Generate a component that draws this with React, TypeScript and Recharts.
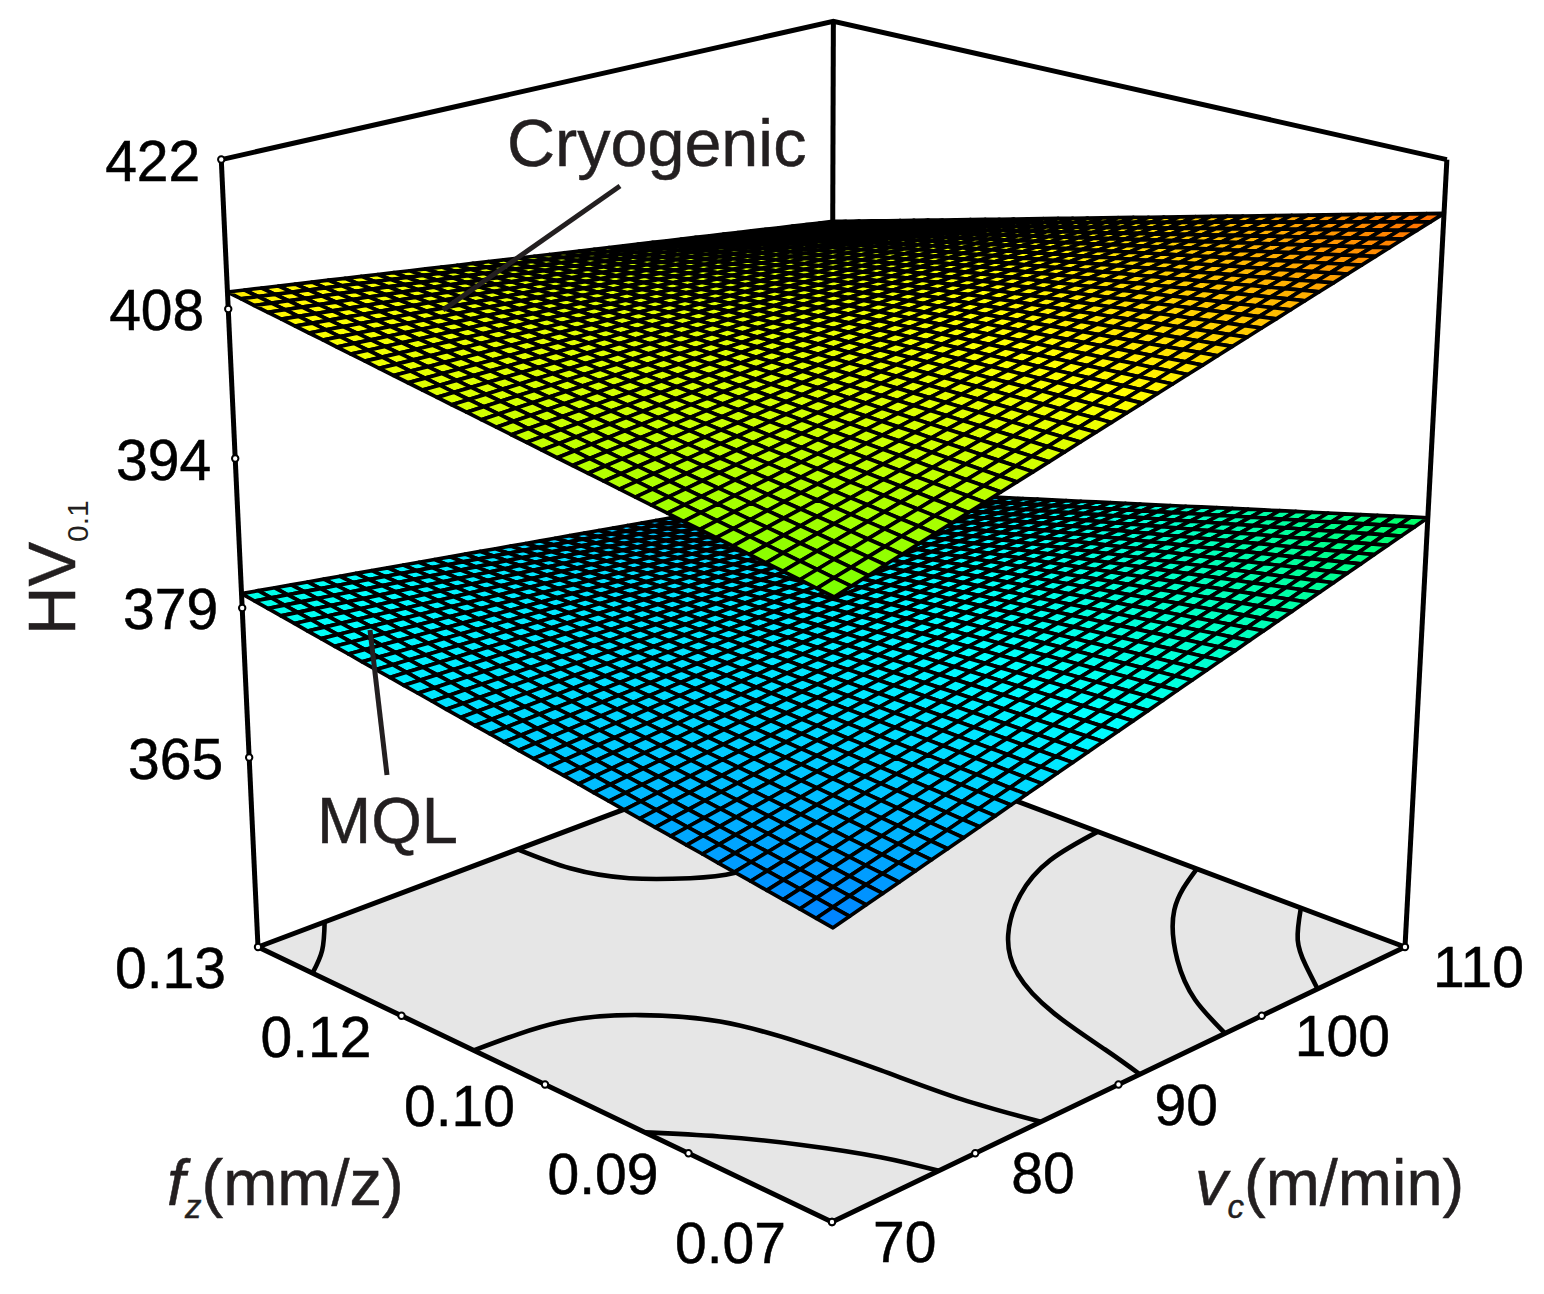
import { Scatter, ScatterChart, XAxis, YAxis } from "recharts";

const WIDTH = 1544;
const HEIGHT = 1294;
const INK = "#231f20";
const FONT = "'Liberation Sans', Arial, sans-serif";

// axis ticks
const vcTicks = [70, 80, 90, 100, 110];
const vcLabels = ["70", "80", "90", "100", "110"];
const fzTicks = [0.07, 0.085, 0.1, 0.115, 0.13];
const fzLabels = ["0.07", "0.09", "0.10", "0.12", "0.13"];
const hvTicks = [422, 407.8, 393.6, 379.4, 365.2];
const hvLabels = ["422", "408", "394", "379", "365"];

const vcRange = [70, 110];
const fzRange = [0.07, 0.13];
const hvRange = [347.2, 422];

// HV read at the four corners of each surface, [fz low, fz high] x [vc low, vc high]
const cryogenicHv = [
  [401.3, 417.2],
  [410.1, 401.8],
];
const mqlHv = [
  [373.4, 389.2],
  [382.0, 373.7],
];
const MESH_CELLS = 40;

// contours on the floor, [vc, fz]
const contourA = [[70, 0.0879], [72.1, 0.0839], [74.1, 0.0792], [75.8, 0.0741], [76.7, 0.07]];
const contourB = [[70, 0.1056], [74.9, 0.1047], [78.1, 0.1015], [80.3, 0.0967], [81.4, 0.0903], [82, 0.0832], [82.5, 0.0761], [83.4, 0.07]];
const contourC = [[110, 0.1004], [105.5, 0.0993], [101.2, 0.0965], [97.2, 0.0922], [94.2, 0.0871], [92.2, 0.0808], [91, 0.0743], [90.2, 0.07]];
const contourD = [[110, 0.0902], [105.3, 0.0864], [100.9, 0.0804], [98.1, 0.0751], [96.3, 0.07]];
const contourE = [[110, 0.0799], [106.9, 0.0764], [104.9, 0.0732], [103.2, 0.07]];
const contourF = [[74.2, 0.13], [72, 0.1262], [70, 0.1236]];
const contourG = [[87, 0.13], [87.3, 0.1244], [88.6, 0.1198], [90.8, 0.1165], [92.9, 0.1148], [96.5, 0.1142]];
const contours = [contourA, contourB, contourC, contourD, contourE, contourF, contourG];

// colour ramp over HV
const rampHv = [366.3, 423];
const rampStops = [
  [0, 0, 255],
  [0, 255, 255],
  [0, 255, 0],
  [255, 255, 0],
  [255, 0, 0],
];

// perspective camera, screen position of the cube corners and depth factors
const FRONT = [832, 1222];
const RIGHT = [1405, 947];
const LEFT = [258, 947];
const TOP_FRONT = [835, 339];
const DEPTH_U = 0.138;
const DEPTH_V = 0.138;
const DEPTH_W = -0.073;

const project = (vc: number, fz: number, hv: number) => {
  const u = (vc - vcRange[0]) / (vcRange[1] - vcRange[0]);
  const v = (fz - fzRange[0]) / (fzRange[1] - fzRange[0]);
  const w = (hv - hvRange[0]) / (hvRange[1] - hvRange[0]);
  const d = 1 + DEPTH_U * u + DEPTH_V * v + DEPTH_W * w;
  const axis = (i: number) =>
    FRONT[i] +
    (RIGHT[i] * (1 + DEPTH_U) - FRONT[i]) * u +
    (LEFT[i] * (1 + DEPTH_V) - FRONT[i]) * v +
    (TOP_FRONT[i] * (1 + DEPTH_W) - FRONT[i]) * w;
  return { x: axis(0) / d, y: axis(1) / d };
};

const lerp = (a: number, b: number, t: number) => a + (b - a) * t;

const hvColor = (hv: number) => {
  const t = Math.min(1, Math.max(0, (hv - rampHv[0]) / (rampHv[1] - rampHv[0])));
  const pos = t * (rampStops.length - 1);
  const i = Math.min(rampStops.length - 2, Math.floor(pos));
  const c = rampStops[i].map((s, k) => Math.round(lerp(s, rampStops[i + 1][k], pos - i)));
  return `rgb(${c[0]},${c[1]},${c[2]})`;
};

const surfaceHv = (table: number[][], i: number, j: number) => {
  const s = i / MESH_CELLS;
  const t = j / MESH_CELLS;
  return lerp(lerp(table[0][0], table[0][1], s), lerp(table[1][0], table[1][1], s), t);
};

// mesh nodes are laid out row by row, the line callback joins them into cells
const meshNodes = (table: number[][]) => {
  const nodes = [];
  for (let j = 0; j <= MESH_CELLS; j++) {
    for (let i = 0; i <= MESH_CELLS; i++) {
      nodes.push(
        project(
          lerp(vcRange[0], vcRange[1], i / MESH_CELLS),
          lerp(fzRange[0], fzRange[1], j / MESH_CELLS),
          surfaceHv(table, i, j)
        )
      );
    }
  }
  return nodes;
};

const meshLine = (table: number[][]) => (props: any) => {
  const pts = props.points;
  const row = MESH_CELLS + 1;
  const cells = [];
  // back to front
  for (let j = MESH_CELLS - 1; j >= 0; j--) {
    for (let i = MESH_CELLS - 1; i >= 0; i--) {
      const a = pts[j * row + i];
      const b = pts[j * row + i + 1];
      const c = pts[(j + 1) * row + i + 1];
      const d = pts[(j + 1) * row + i];
      const hv = (surfaceHv(table, i, j) + surfaceHv(table, i + 1, j) + surfaceHv(table, i + 1, j + 1) + surfaceHv(table, i, j + 1)) / 4;
      cells.push(
        <polygon
          key={`${i}-${j}`}
          points={`${a.x},${a.y} ${b.x},${b.y} ${c.x},${c.y} ${d.x},${d.y}`}
          fill={hvColor(hv)}
          stroke="#000"
          strokeWidth={3.7}
          strokeLinejoin="round"
        />
      );
    }
  }
  return <g>{cells}</g>;
};

const floorLine = (props: any) => (
  <polygon
    points={props.points.map((p: any) => `${p.x},${p.y}`).join(" ")}
    fill="#e6e6e6"
    stroke="#000"
    strokeWidth={5}
    strokeLinejoin="round"
  />
);

const [vc0, vc1] = vcRange;
const [fz0, fz1] = fzRange;
const [hv0, hv1] = hvRange;

const floorCorners = [
  project(vc0, fz0, hv0),
  project(vc1, fz0, hv0),
  project(vc1, fz1, hv0),
  project(vc0, fz1, hv0),
];
const topLeft = project(vc0, fz1, hv1);
const topRight = project(vc1, fz0, hv1);
const topBack = project(vc1, fz1, hv1);
const floorLeft = floorCorners[3];
const floorRight = floorCorners[1];
const floorBack = floorCorners[2];
const floorFront = floorCorners[0];

const frameLines = [
  [topLeft, topBack, topRight],
  [topBack, floorBack],
  [topLeft, floorLeft],
  [topRight, floorRight],
];

// the tick marks sit evenly along the drawn edges
const along = (a: any, b: any, t: number) => ({ x: lerp(a.x, b.x, t), y: lerp(a.y, b.y, t) });
const vcMarks = vcTicks.map((t) => along(floorFront, floorRight, (t - vc0) / (vc1 - vc0)));
const fzMarks = fzTicks.map((t) => along(floorFront, floorLeft, (t - fz0) / (fz1 - fz0)));
const hvMarks = hvTicks.map((t) => along(floorLeft, topLeft, (t - hv0) / (hv1 - hv0)));

const vcLabelDx = [41, 36, 36, 33, 28];
const fzLabelDx = [-46, -30, -30, -30, -32];
const hvLabelDx = [-21, -24, -24, -24, -26];
const vcMarkData = vcMarks.map((p, i) => ({ ...p, label: vcLabels[i], dx: vcLabelDx[i], dy: 40, anchor: "start" }));
const fzMarkData = fzMarks.map((p, i) => ({ ...p, label: fzLabels[i], dx: fzLabelDx[i], dy: 41, anchor: "end" }));
const hvMarkData = hvMarks.map((p, i) => ({ ...p, label: hvLabels[i], dx: hvLabelDx[i], dy: 21, anchor: "end" }));

// annotation layout, in picture pixels
const cryogenicLeader = [{ x: 620, y: 186 }, { x: 443, y: 310 }];
const mqlLeader = [{ x: 387, y: 775 }, { x: 370, y: 630 }];

const NoDot = () => null;

const TickMark = ({ cx, cy, payload }: any) => (
  <g>
    <circle cx={cx} cy={cy} r={3.2} fill="#fff" stroke="#000" strokeWidth={2} />
    {payload.label ? (
      <text x={cx + payload.dx} y={cy + payload.dy} textAnchor={payload.anchor} fontFamily={FONT} fontSize={57} fill="#000" stroke="#000" strokeWidth={0.5}>
        {payload.label}
      </text>
    ) : null}
  </g>
);

const CryogenicText = ({ cx, cy }: any) => (
  <text x={cx} y={cy} fontFamily={FONT} fontSize={66.5} fill={INK} stroke={INK} strokeWidth={0.5}>Cryogenic</text>
);
const MqlText = ({ cx, cy }: any) => (
  <text x={cx} y={cy} fontFamily={FONT} fontSize={65} fill={INK} stroke={INK} strokeWidth={0.5}>MQL</text>
);
const FzTitle = ({ cx, cy }: any) => (
  <text x={cx} y={cy} fontFamily={FONT} fontSize={65} fill={INK} stroke={INK} strokeWidth={0.5}>
    <tspan fontStyle="italic">f</tspan>
    <tspan fontStyle="italic" fontSize={33} dy={13}>z</tspan>
    <tspan dy={-13}>(mm/z)</tspan>
  </text>
);
const VcTitle = ({ cx, cy }: any) => (
  <text x={cx} y={cy} fontFamily={FONT} fontSize={65} fill={INK} stroke={INK} strokeWidth={0.5}>
    <tspan fontStyle="italic">v</tspan>
    <tspan fontStyle="italic" fontSize={33} dy={13}>c</tspan>
    <tspan dy={-13}>(m/min)</tspan>
  </text>
);
const HvTitle = ({ cx, cy }: any) => (
  <text transform={`translate(${cx},${cy}) rotate(-90)`} fontFamily={FONT} fontSize={67} fill={INK} stroke={INK} strokeWidth={0.5}>
    <tspan>HV</tspan>
    <tspan fontSize={30} dy={13} strokeWidth={0}>0.1</tspan>
  </text>
);

export default function App() {
  return (
    <div style={{ position: "absolute", left: 0, top: 0, width: WIDTH, height: HEIGHT, background: "#fff" }}>
      <ScatterChart width={WIDTH} height={HEIGHT} margin={{ top: 0, right: 0, bottom: 0, left: 0 }}>
        <XAxis type="number" dataKey="x" domain={[0, WIDTH]} hide />
        <YAxis type="number" dataKey="y" domain={[0, HEIGHT]} reversed hide />

        {frameLines.map((pts, i) => (
          <Scatter key={`frame-${i}`} data={pts} shape={NoDot} isAnimationActive={false} line={{ stroke: "#000", strokeWidth: 5 }} />
        ))}

        <Scatter data={floorCorners} shape={NoDot} isAnimationActive={false} line={floorLine} />

        {contours.map((c, i) => (
          <Scatter
            key={`contour-${i}`}
            data={c.map(([vc, fz]) => project(vc, fz, hv0))}
            shape={NoDot}
            isAnimationActive={false}
            line={{ stroke: "#000", strokeWidth: 4.6 }}
            lineJointType="natural"
          />
        ))}

        <Scatter data={meshNodes(mqlHv)} shape={NoDot} isAnimationActive={false} line={meshLine(mqlHv)} />
        <Scatter data={meshNodes(cryogenicHv)} shape={NoDot} isAnimationActive={false} line={meshLine(cryogenicHv)} />

        <Scatter data={cryogenicLeader} shape={NoDot} isAnimationActive={false} line={{ stroke: INK, strokeWidth: 5 }} />
        <Scatter data={mqlLeader} shape={NoDot} isAnimationActive={false} line={{ stroke: INK, strokeWidth: 5 }} />

        <Scatter data={vcMarkData} shape={TickMark} isAnimationActive={false} />
        <Scatter data={fzMarkData} shape={TickMark} isAnimationActive={false} />
        <Scatter data={hvMarkData} shape={TickMark} isAnimationActive={false} />

        <Scatter data={[{ x: 507, y: 166 }]} shape={CryogenicText} isAnimationActive={false} />
        <Scatter data={[{ x: 317, y: 843 }]} shape={MqlText} isAnimationActive={false} />
        <Scatter data={[{ x: 167, y: 1205 }]} shape={FzTitle} isAnimationActive={false} />
        <Scatter data={[{ x: 1195, y: 1205 }]} shape={VcTitle} isAnimationActive={false} />
        <Scatter data={[{ x: 75, y: 635 }]} shape={HvTitle} isAnimationActive={false} />
      </ScatterChart>
    </div>
  );
}
